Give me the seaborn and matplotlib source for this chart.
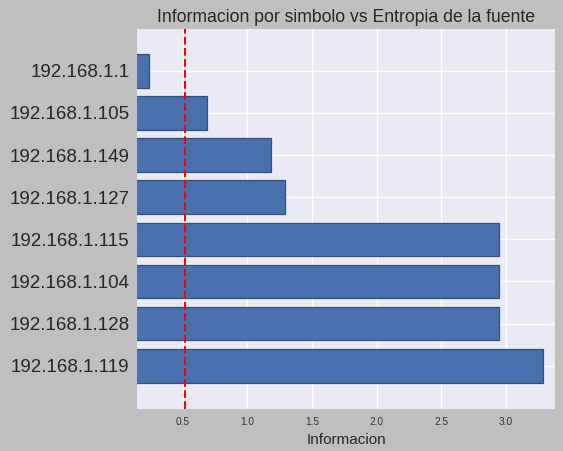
import numpy as np
import pandas as pd
import matplotlib
matplotlib.use('Agg')
import matplotlib.pyplot as plt
import seaborn as sns

# datos
ips = ['192.168.1.1', '192.168.1.105', '192.168.1.149', '192.168.1.127',
       '192.168.1.115', '192.168.1.104', '192.168.1.128', '192.168.1.119']
informacion = [0.24, 0.69, 1.18, 1.29, 2.95, 2.95, 2.95, 3.29]
entropia = 0.517

df = pd.DataFrame({'ip': ips, 'info': informacion})

sns.set_theme(style='darkgrid')
plt.rcParams['font.family'] = ['Liberation Sans', 'DejaVu Sans']

fig = plt.figure(figsize=(5.63, 4.51), dpi=100, facecolor='#bfbfbf')
ax = fig.add_axes([0.2433, 0.0937, 0.7425, 0.8427])
ax.set_facecolor('#eaeaf2')

sns.barplot(data=df, x='info', y='ip', orient='h', color='#4a70ae',
            saturation=1, width=0.8, edgecolor='#34507e', linewidth=0.9, ax=ax)
ax.axvline(entropia, color='red', linestyle='--', linewidth=1.5)

ax.grid(True, axis='both', color='white', linewidth=1)
ax.set_axisbelow(True)
ax.set_xlim(0.147, 3.38)
ax.set_ylim(8.02, -1.0)
ax.set_xticks([0.5, 1.0, 1.5, 2.0, 2.5, 3.0])
ax.tick_params(axis='x', labelsize=7.3, colors='#333333', length=0, pad=6)
ax.tick_params(axis='y', labelsize=13.5, colors='#262626', length=0, pad=5.5)
ax.set_xlabel('Informacion', fontsize=11, color='#262626', labelpad=4)
ax.set_ylabel('')
ax.set_title('Informacion por simbolo vs Entropia de la fuente', fontsize=12.7,
             color='#262626', pad=5)
for s in ax.spines.values():
    s.set_visible(False)

fig.savefig('out.png', dpi=100, facecolor=fig.get_facecolor())
